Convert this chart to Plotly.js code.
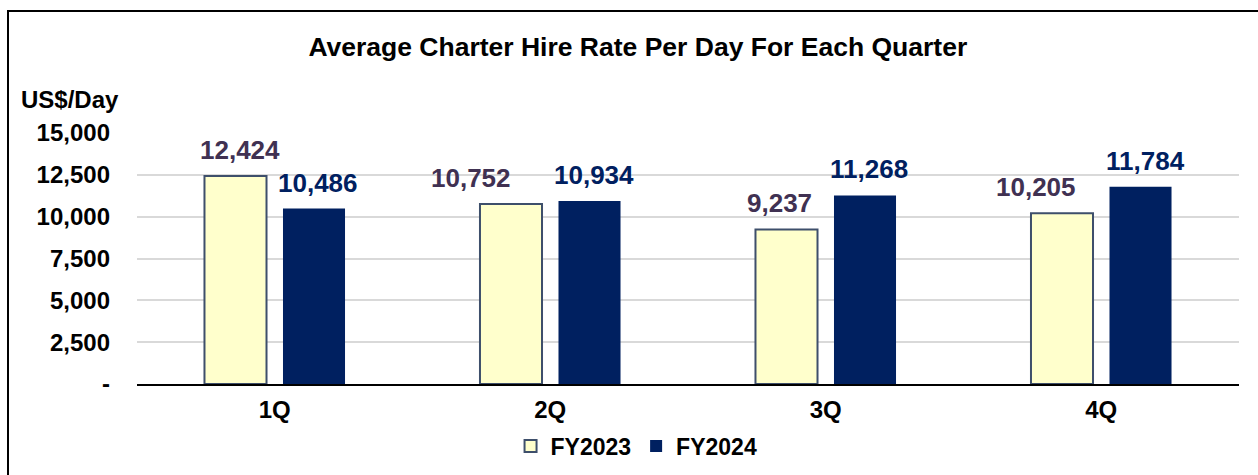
<!DOCTYPE html>
<html>
<head>
<meta charset="utf-8">
<script src="https://cdn.plot.ly/plotly-3.0.1.min.js"></script>
<style>
html,body{margin:0;padding:0;background:#fff;}
#wrap{position:relative;width:1258px;height:475px;}
#chart{position:absolute;left:0;top:0;width:1258px;height:475px;}
#frame{position:absolute;left:7px;top:10px;width:1251px;height:465px;border-left:2px solid #000;border-top:2px solid #000;pointer-events:none;}
</style>
</head>
<body>
<div id="wrap"><div id="chart"></div><div id="frame"></div></div>
<script>
const categories = ['1Q', '2Q', '3Q', '4Q'];
const fy2023 = [12424, 10752, 9237, 10205];
const fy2024 = [10486, 10934, 11268, 11784];
const seriesNames = ['FY2023', 'FY2024'];
const tickVals = [0, 2500, 5000, 7500, 10000, 12500, 15000];
const tickText = ['-', '2,500', '5,000', '7,500', '10,000', '12,500', '15,000'];

// label horizontal placement (px, relative to category centre)
const labelShift2023 = [-35, -79, -46, -65];
const labelShift2024 = [43, 43.5, 43.5, 44];

const FONT = 'Liberation Sans, Arial, sans-serif';
const fmt = v => v.toLocaleString('en-US');

const traces = [
  {type:'bar', name:seriesNames[0], x:categories, y:fy2023,
   marker:{color:'#FFFFCC', line:{color:'#3E4F6B', width:2}}, hoverinfo:'none'},
  {type:'bar', name:seriesNames[1], x:categories, y:fy2024,
   marker:{color:'#002060', line:{color:'#002060', width:0}}, hoverinfo:'none'}
];

const annotations = [];
categories.forEach((c,i)=>{
  annotations.push({x:c, y:fy2023[i], xref:'x', yref:'y', text:fmt(fy2023[i]), showarrow:false,
    xshift:labelShift2023[i], yshift:26, yanchor:'middle', font:{family:FONT, size:26, color:'#403152', weight:'bold'}});
  annotations.push({x:c, y:fy2024[i], xref:'x', yref:'y', text:fmt(fy2024[i]), showarrow:false,
    xshift:labelShift2024[i], yshift:26, yanchor:'middle', font:{family:FONT, size:26, color:'#002060', weight:'bold'}});
});
annotations.push({xref:'paper', yref:'paper', x:(19-137)/1102, y:(384-100)/251, xanchor:'left', yanchor:'middle',
  text:'US$/Day', showarrow:false, font:{family:FONT, size:24, color:'#000', weight:'bold'}});

const layout = {
  width:1258, height:475,
  margin:{l:137, r:19, t:133, b:91},
  paper_bgcolor:'#fff', plot_bgcolor:'#fff',
  font:{family:FONT, color:'#000'},
  title:{text:'Average Charter Hire Rate Per Day For Each Quarter', xref:'container', yref:'container',
    x:0.507, xanchor:'center', y:1-47/475, yanchor:'middle',
    font:{family:FONT, size:26.5, color:'#000', weight:'bold'}},
  barmode:'group', bargap:0.43, bargroupgap:0.21,
  xaxis:{type:'category', showgrid:false, showline:true, linecolor:'#000', linewidth:2,
    ticks:'', tickfont:{family:FONT, size:24, color:'#000', weight:'bold'}, ticklabelstandoff:3,
    fixedrange:true},
  yaxis:{range:[0,15000], tickvals:tickVals, ticktext:tickText, showgrid:true, gridcolor:'#D9D9D9', gridwidth:2,
    zeroline:false, showline:false, ticks:'', tickfont:{family:FONT, size:24, color:'#000', weight:'bold'},
    ticklabelstandoff:26, fixedrange:true},
  showlegend:true,
  legend:{orientation:'h', xref:'container', yref:'container', x:0.506, xanchor:'center', y:1-446/475, yanchor:'middle',
    font:{family:FONT, size:23, color:'#000', weight:'bold'}, itemwidth:30, traceorder:'normal'},
  annotations:annotations
};

Plotly.newPlot('chart', traces, layout, {displayModeBar:false, staticPlot:true});
</script>
</body>
</html>
